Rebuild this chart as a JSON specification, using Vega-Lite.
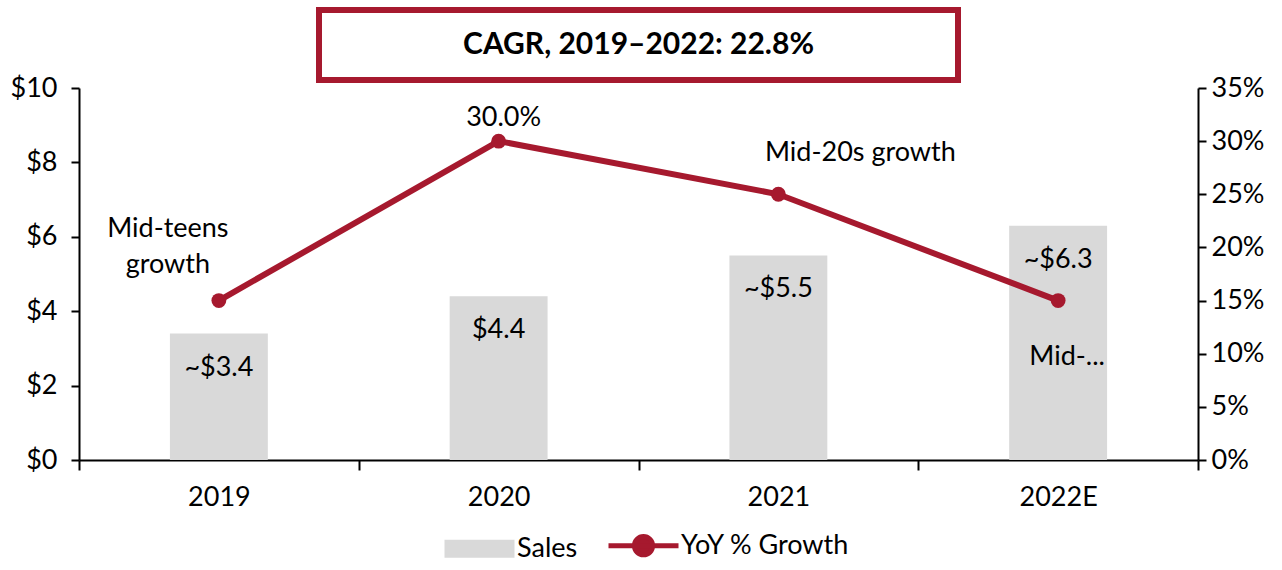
{
  "$schema": "https://vega.github.io/schema/vega-lite/v6.json",
  "background": "white",
  "padding": {"left": 10, "top": 7, "right": 5, "bottom": 5},
  "config": {
    "font": "Lato",
    "view": {"stroke": null},
    "axis": {"grid": false, "domainColor": "#000000", "tickColor": "#000000", "labelColor": "#000000", "labelFontSize": 27, "labelFont": "Lato", "title": null, "domainWidth": 2, "tickWidth": 2},
    "legend": {"labelFontSize": 27, "labelFont": "Lato", "labelColor": "#000000", "labelLimit": 400}
  },
  "datasets": {
    "main": [
      {"year": "2019", "sales": 3.4, "salesLabel": "~$3.4", "growth": 0.15, "growthLabel": "Mid-teens\ngrowth"},
      {"year": "2020", "sales": 4.4, "salesLabel": "$4.4", "growth": 0.30, "growthLabel": "30.0%"},
      {"year": "2021", "sales": 5.5, "salesLabel": "~$5.5", "growth": 0.25, "growthLabel": "Mid-20s growth"},
      {"year": "2022E", "sales": 6.3, "salesLabel": "~$6.3", "growth": 0.15, "growthLabel": "Mid-..."}
    ],
    "title": [{"text": "CAGR, 2019–2022: 22.8%"}]
  },
  "bounds": "flush",
  "center": true,
  "spacing": 8,
  "vconcat": [
    {
      "width": 639,
      "height": 70,
      "view": {"stroke": "#a6192e", "strokeWidth": 6},
      "data": {"name": "title"},
      "mark": {"type": "text", "fontSize": 30, "fontWeight": "bold", "font": "Lato", "color": "#000000"},
      "encoding": {"text": {"field": "text", "type": "nominal"}}
    },
    {
      "width": 1119,
      "height": 372,
      "data": {"name": "main"},
      "encoding": {
        "x": {
          "field": "year", "type": "nominal", "sort": null,
          "scale": {"paddingInner": 0, "paddingOuter": 0},
          "axis": {"labelAngle": 0, "tickBand": "extent", "tickSize": 10, "labelPadding": 14}
        }
      },
      "layer": [
        {
          "encoding": {
            "y": {"field": "sales", "type": "quantitative", "scale": {"domain": [0, 10]},
              "axis": {"orient": "left", "values": [0, 2, 4, 6, 8, 10], "labelExpr": "'$' + datum.value", "tickSize": 8, "labelPadding": 14}}
          },
          "layer": [
            {
              "mark": {"type": "bar", "width": {"band": 0.35}},
              "encoding": {
                "color": {"datum": "Sales", "type": "nominal",
                  "scale": {"domain": ["Sales", "YoY % Growth"], "range": ["#d9d9d9", "#a6192e"]},
                  "legend": {
                    "orient": "none", "legendX": 387, "legendY": 522, "direction": "horizontal", "title": null,
                    "columnPadding": 20, "symbolSize": 4900, "labelOffset": 24,
                    "encode": {
                      "symbols": {"update": {
                        "shape": {"signal": "datum.value === 'Sales' ? 'M-1,-0.26L1,-0.26L1,0.26L-1,0.26Z' : 'M-1,0L1,0M-0.26,0A0.26,0.26 0 1,1 0.26,0A0.26,0.26 0 1,1 -0.26,0Z'"},
                        "fill": {"signal": "datum.value === 'Sales' ? '#d9d9d9' : '#a6192e'"},
                        "stroke": {"signal": "datum.value === 'Sales' ? 'transparent' : '#a6192e'"},
                        "strokeWidth": {"signal": "datum.value === 'Sales' ? 0 : 5"},
                        "size": {"value": 4900},
                        "opacity": {"value": 1}
                      }}
                    }
                  }
                }
              }
            },
            {
              "mark": {"type": "text", "dy": 34, "fontSize": 27, "color": "#000000", "baseline": "middle"},
              "encoding": {"text": {"field": "salesLabel", "type": "nominal"}}
            }
          ]
        },
        {
          "encoding": {
            "y": {"field": "growth", "type": "quantitative", "scale": {"domain": [0, 0.35]},
              "axis": {"orient": "right", "values": [0, 0.05, 0.1, 0.15, 0.2, 0.25, 0.3, 0.35], "format": ".0%", "tickSize": 8, "labelPadding": 5}}
          },
          "layer": [
            {
              "mark": {"type": "line", "strokeWidth": 6},
              "encoding": {"color": {"datum": "YoY % Growth", "type": "nominal"}}
            },
            {
              "mark": {"type": "point", "filled": true, "size": 220, "opacity": 1, "color": "#a6192e"}
            },
            {
              "transform": [{"filter": "datum.year == '2019'"}],
              "mark": {"type": "text", "fontSize": 27, "color": "#000000", "lineBreak": "\n", "lineHeight": 36, "dx": -51, "dy": -72, "baseline": "middle"},
              "encoding": {"text": {"field": "growthLabel", "type": "nominal"}}
            },
            {
              "transform": [{"filter": "datum.year == '2020'"}],
              "mark": {"type": "text", "fontSize": 27, "color": "#000000", "dx": 5, "dy": -23, "baseline": "middle"},
              "encoding": {"text": {"field": "growthLabel", "type": "nominal"}}
            },
            {
              "transform": [{"filter": "datum.year == '2021'"}],
              "mark": {"type": "text", "fontSize": 27, "color": "#000000", "dx": 82, "dy": -41, "baseline": "middle"},
              "encoding": {"text": {"field": "growthLabel", "type": "nominal"}}
            },
            {
              "transform": [{"filter": "datum.year == '2022E'"}],
              "mark": {"type": "text", "fontSize": 27, "color": "#000000", "dx": 9, "dy": 56, "baseline": "middle"},
              "encoding": {"text": {"field": "growthLabel", "type": "nominal"}}
            }
          ]
        }
      ],
      "resolve": {"scale": {"y": "independent"}}
    }
  ]
}
